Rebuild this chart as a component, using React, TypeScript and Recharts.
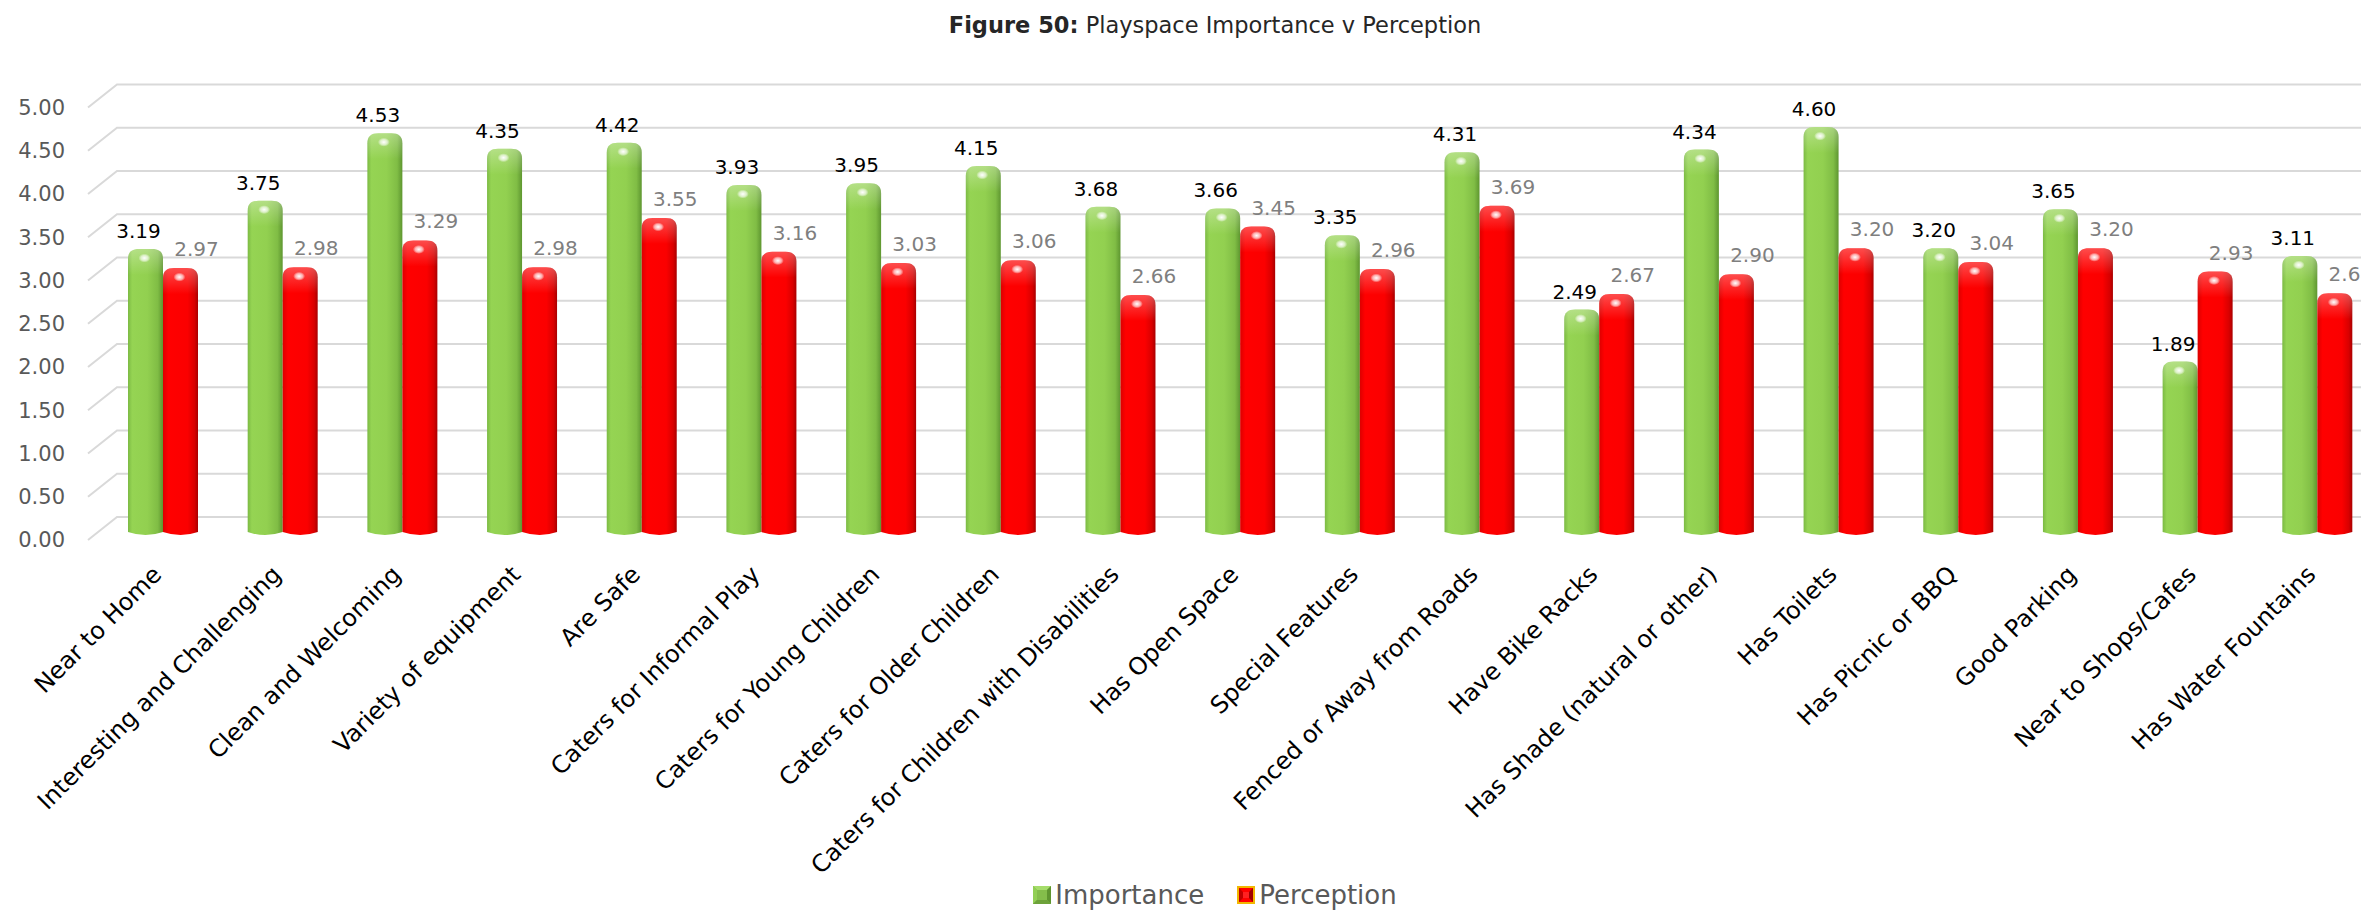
import React from "react";
import { Bar, BarChart, CartesianGrid, LabelList, Legend, XAxis, YAxis } from "recharts";

const categories = [
  "Near to Home",
  "Interesting and Challenging",
  "Clean and Welcoming",
  "Variety of equipment",
  "Are Safe",
  "Caters for Informal Play",
  "Caters for Young Children",
  "Caters for Older Children",
  "Caters for Children with Disabilities",
  "Has Open Space",
  "Special Features",
  "Fenced or Away from Roads",
  "Have Bike Racks",
  "Has Shade (natural or other)",
  "Has Toilets",
  "Has Picnic or BBQ",
  "Good Parking",
  "Near to Shops/Cafes",
  "Has Water Fountains",
];

const importance = [3.19, 3.75, 4.53, 4.35, 4.42, 3.93, 3.95, 4.15, 3.68, 3.66, 3.35, 4.31, 2.49, 4.34, 4.6, 3.2, 3.65, 1.89, 3.11];
const perception = [2.97, 2.98, 3.29, 2.98, 3.55, 3.16, 3.03, 3.06, 2.66, 3.45, 2.96, 3.69, 2.67, 2.9, 3.2, 3.04, 3.2, 2.93, 2.68];

const yTicks = [0, 0.5, 1, 1.5, 2, 2.5, 3, 3.5, 4, 4.5, 5];

const data = categories.map((name, i) => ({
  name,
  importance: importance[i],
  perception: perception[i],
}));

const FONT = "'DejaVu Sans', sans-serif";
const CHART_W = 2430;
const CHART_H = 913;

// back wall line with the short diagonal running out to the value label
const gridLine = (props: any) => {
  const { x1, x2, y1, index } = props;
  const d = `M${x1 - 15},${y1 + 8} L${x1 + 14},${y1 - 15} L${x2 + 60},${y1 - 15}`;
  return <path key={`grid-${index}`} d={d} stroke="#d9d9d9" strokeWidth={2} fill="none" />;
};

const YTick = ({ x, y, payload }: any) => (
  <text x={x} y={y + 8} dy="0.35em" textAnchor="end" fill="#595959" fontSize={21} fontFamily={FONT}>
    {Number(payload.value).toFixed(2)}
  </text>
);

const XTick = ({ x, y, payload }: any) => (
  <text
    x={x}
    y={y + 36}
    transform={`rotate(-45 ${x} ${y + 36})`}
    textAnchor="end"
    fill="#000"
    fontSize={24}
    fontFamily={FONT}
  >
    {payload.value}
  </text>
);

// rounded cylinder; the dome sits slightly above the value line
const makeCylinder = (kind: "green" | "red") => (props: any) => {
  const { x, y, width: w, height: h } = props;
  if (h == null || w == null) return <g />;
  const base = y + h;
  const top = y - 7;
  const rx = 11;
  const ry = 10;
  const body =
    `M${x},${base} L${x},${top + ry} ` +
    `C${x},${top + ry * 0.3} ${x + rx * 0.35},${top} ${x + rx},${top} ` +
    `L${x + w - rx},${top} ` +
    `C${x + w - rx * 0.35},${top} ${x + w},${top + ry * 0.3} ${x + w},${top + ry} ` +
    `L${x + w},${base} Q${x + w / 2},${base + 6} ${x},${base} Z`;
  const cap =
    `M${x},${top + 26} L${x},${top + ry} ` +
    `C${x},${top + ry * 0.3} ${x + rx * 0.35},${top} ${x + rx},${top} ` +
    `L${x + w - rx},${top} ` +
    `C${x + w - rx * 0.35},${top} ${x + w},${top + ry * 0.3} ${x + w},${top + ry} ` +
    `L${x + w},${top + 26} Z`;
  return (
    <g>
      <path d={body} fill={`url(#body-${kind})`} />
      <path d={cap} fill="url(#cap-shine)" />
      <ellipse cx={x + w * 0.47} cy={top + 9} rx={6} ry={4.5} fill="url(#spot)" />
    </g>
  );
};

const importanceLabel = (props: any) => {
  const { x, y, width, value } = props;
  return (
    <text x={x + width / 2 - 7} y={y - 18} textAnchor="middle" fill="#000" fontSize={20} fontFamily={FONT}>
      {Number(value).toFixed(2)}
    </text>
  );
};

const perceptionLabel = (props: any) => {
  const { x, y, width, value } = props;
  return (
    <text x={x + width / 2 + 16} y={y - 19} textAnchor="middle" fill="#7f7f7f" fontSize={20} fontFamily={FONT}>
      {Number(value).toFixed(2)}
    </text>
  );
};

const LegendIcon = ({ kind }: { kind: string }) =>
  kind === "Importance" ? (
    <svg width={18} height={18} style={{ display: "block" }}>
      <rect x={0} y={0} width={18} height={18} fill="#7db545" />
      <polygon points="0,0 18,0 14,4 4,4" fill="#a5dc6a" />
      <polygon points="0,0 4,4 4,14 0,18" fill="#92cf55" />
      <polygon points="18,0 18,18 14,14 14,4" fill="#5f9530" />
      <polygon points="0,18 4,14 14,14 18,18" fill="#6da23a" />
      <rect x={4} y={4} width={10} height={10} fill="#84bd4b" />
    </svg>
  ) : (
    <svg width={18} height={18} style={{ display: "block" }}>
      <rect x={0} y={0} width={18} height={18} fill="#f2b700" />
      <rect x={2} y={2} width={14} height={14} fill="#ff0000" />
      <polygon points="2,2 6,6 6,12 2,16" fill="#c00000" />
      <polygon points="16,2 16,16 12,12 12,6" fill="#a00000" />
      <rect x={6} y={6} width={6} height={6} fill="#ff2020" />
    </svg>
  );

const renderLegend = (props: any) => {
  const items = props.payload || [];
  return (
    <div style={{ display: "flex", justifyContent: "center", alignItems: "flex-end", fontFamily: FONT }}>
      {items.map((item: any, i: number) => (
        <div
          key={item.value}
          style={{ display: "flex", alignItems: "flex-end", marginLeft: i === 0 ? 0 : 33 }}
        >
          <div style={{ marginBottom: 4 }}>
            <LegendIcon kind={item.value} />
          </div>
          <span style={{ marginLeft: 4, fontSize: 26, lineHeight: "26px", color: "#595959" }}>{item.value}</span>
        </div>
      ))}
    </div>
  );
};

export default function App() {
  return (
    <div
      style={{
        position: "absolute",
        left: 0,
        top: 0,
        width: 2361,
        height: 913,
        overflow: "hidden",
        background: "#fff",
      }}
    >
      <div style={{ position: "relative", width: CHART_W, height: CHART_H }}>
        <div
          style={{
            position: "absolute",
            top: 14,
            left: 0,
            width: CHART_W,
            textAlign: "center",
            fontFamily: FONT,
            fontSize: 22.5,
            lineHeight: "22px",
            color: "#262626",
          }}
        >
          <b>Figure 50:</b> Playspace Importance v Perception
        </div>
        <BarChart
          width={CHART_W}
          height={CHART_H}
          data={data}
          margin={{ top: 99.5, right: 53, bottom: 351, left: 0 }}
          barGap={0}
        >
          <defs>
            <linearGradient id="body-green" x1="0" y1="0" x2="1" y2="0">
              <stop offset="0%" stopColor="#7cba44" />
              <stop offset="12%" stopColor="#95d453" />
              <stop offset="55%" stopColor="#92d050" />
              <stop offset="85%" stopColor="#80bd45" />
              <stop offset="100%" stopColor="#5e9630" />
            </linearGradient>
            <linearGradient id="body-red" x1="0" y1="0" x2="1" y2="0">
              <stop offset="0%" stopColor="#dc0000" />
              <stop offset="15%" stopColor="#ff0000" />
              <stop offset="70%" stopColor="#fb0000" />
              <stop offset="90%" stopColor="#d80000" />
              <stop offset="100%" stopColor="#a80000" />
            </linearGradient>
            <linearGradient id="cap-shine" x1="0" y1="0" x2="0" y2="1">
              <stop offset="0%" stopColor="#ffffff" stopOpacity={0.3} />
              <stop offset="100%" stopColor="#ffffff" stopOpacity={0} />
            </linearGradient>
            <radialGradient id="spot">
              <stop offset="0%" stopColor="#ffffff" stopOpacity={1} />
              <stop offset="60%" stopColor="#ffffff" stopOpacity={0.6} />
              <stop offset="100%" stopColor="#ffffff" stopOpacity={0} />
            </radialGradient>
          </defs>
          <CartesianGrid vertical={false} horizontal={gridLine} />
          <XAxis
            dataKey="name"
            interval={0}
            axisLine={false}
            tickLine={false}
            height={30}
            tick={<XTick />}
          />
          <YAxis
            type="number"
            domain={[0, 5]}
            ticks={yTicks}
            axisLine={false}
            tickLine={false}
            tickSize={0}
            tickMargin={38}
            width={103}
            tick={<YTick />}
          />
          <Legend
            layout="horizontal"
            verticalAlign="middle"
            align="center"
            content={renderLegend}
            wrapperStyle={{ top: 882, left: 0, width: CHART_W }}
          />
          <Bar
            dataKey="importance"
            name="Importance"
            fill="#92d050"
            barSize={35}
            shape={makeCylinder("green")}
            isAnimationActive={false}
          >
            <LabelList dataKey="importance" content={importanceLabel} />
          </Bar>
          <Bar
            dataKey="perception"
            name="Perception"
            fill="#ff0000"
            barSize={35}
            shape={makeCylinder("red")}
            isAnimationActive={false}
          >
            <LabelList dataKey="perception" content={perceptionLabel} />
          </Bar>
        </BarChart>
      </div>
    </div>
  );
}
